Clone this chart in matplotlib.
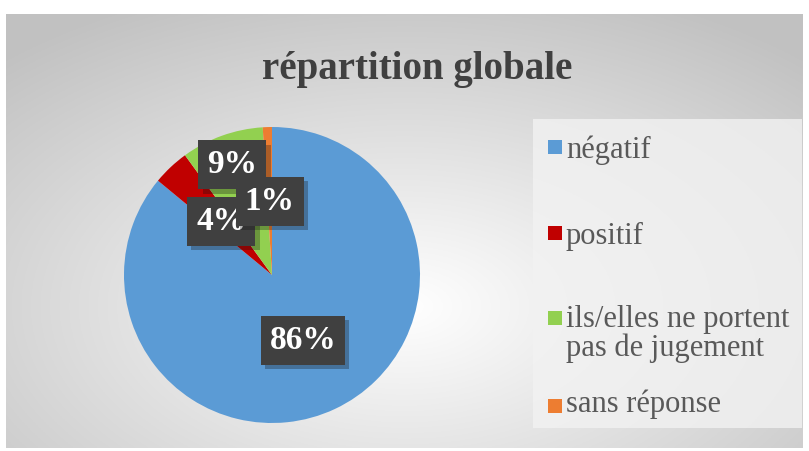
import numpy as np
import matplotlib.pyplot as plt
import matplotlib.patches as mpatches
from matplotlib.patheffects import withSimplePatchShadow

plt.rcParams['font.family'] = ['Liberation Serif', 'DejaVu Serif']

labels = ['négatif', 'positif', 'ils/elles ne portent\npas de jugement', 'sans réponse']
values = [86, 4, 9, 1]
colors = ['#5B9BD5', '#C00000', '#92D050', '#ED7D31']
label_dist = [0.49, 0.50, 0.79, 0.50]

W, H = 809, 451
fig = plt.figure(figsize=(W / 100, H / 100), dpi=100)
fig.patch.set_facecolor('white')

# chart area with radial gradient
bg = fig.add_axes([6 / W, 3 / H, 797 / W, 434 / H])
yy, xx = np.mgrid[-1:1:300j, -1:1:500j]
d = np.sqrt((xx * 0.95) ** 2 + ((yy - 0.35) * 0.9) ** 2)
shade = 1.0 - 0.24 * np.clip(d, 0, 1.4) / 1.4
bg.imshow(np.dstack([shade] * 3), extent=[0, 1, 0, 1], aspect='auto')
bg.set_xlim(0, 1)
bg.set_ylim(0, 1)
bg.axis('off')

# legend panel
fig.patches.append(mpatches.Rectangle((533 / W, 1 - 428 / H), 269 / W, 309 / H,
                                      facecolor='#f2f2f2', edgecolor='none', alpha=0.8,
                                      transform=fig.transFigure, figure=fig))

fig.text(417 / W, 1 - 70 / H, 'répartition globale', ha='center', va='center',
         fontsize=28, fontweight='bold', color='#404040')

cx, cy, r = 272, 275, 148
ax = fig.add_axes([(cx - r) / W, (H - cy - r) / H, 2 * r / W, 2 * r / H])
wedges, texts = ax.pie(values, colors=colors, startangle=90, counterclock=False,
                       wedgeprops=dict(linewidth=0))
ax.set_aspect('auto')
ax.set_xlim(-1, 1)
ax.set_ylim(-1, 1)

for w, v, dist in zip(wedges, values, label_dist):
    ang = np.deg2rad((w.theta1 + w.theta2) / 2)
    ax.text(dist * np.cos(ang), dist * np.sin(ang), f'{v}%', ha='center', va='center',
            fontsize=24, fontweight='bold', color='white',
            bbox=dict(boxstyle='square,pad=0.27', facecolor='#404040', edgecolor='none',
                      path_effects=[withSimplePatchShadow(offset=(3, -3), alpha=0.3)]))

leg_text_y = [150, 236, 334, 404]
leg_mark_y = [147, 233, 318, 406]
for lab, col, ty, my in zip(labels, colors, leg_text_y, leg_mark_y):
    fig.patches.append(mpatches.Rectangle((548 / W, 1 - (my + 7) / H), 14 / W, 14 / H,
                                          facecolor=col, edgecolor='none',
                                          transform=fig.transFigure, figure=fig))
    fig.text(566 / W, 1 - ty / H, lab, ha='left', va='center', fontsize=22,
             color='#595959', linespacing=0.95)

fig.savefig('out.png', dpi=100)
